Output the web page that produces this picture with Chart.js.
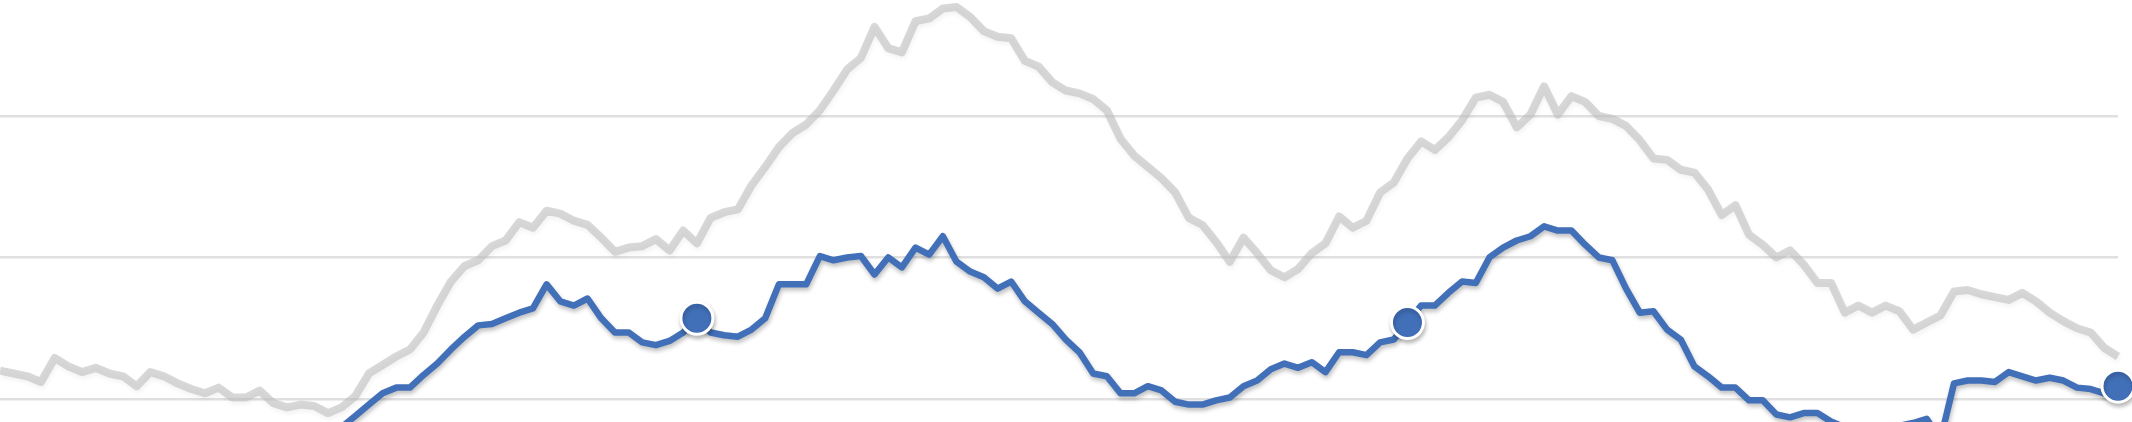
<!DOCTYPE html>
<html lang="en">
<head>
    <meta charset="UTF-8">
    <title>Two series</title>
    <script src="https://cdn.jsdelivr.net/npm/chart.js"></script>
    <style>
        html, body { margin: 0; padding: 0; background: #ffffff; }
        .chart-container { position: relative; width: 2132px; height: 422px; }
    </style>
</head>
<body>
    <div class="chart-container">
        <canvas id="lineChart"></canvas>
    </div>

    <script>
        // weekly points (gridlines sit at 10 / 20 / 30)
        const weeks = Array.from({ length: 156 }, (_, i) => 'W' + (i + 1));

        const greySeries = [
            12.0, 11.8, 11.6, 11.2, 12.9, 12.3, 11.9, 12.2, 11.8, 11.6,
            10.9, 11.9, 11.6, 11.1, 10.7, 10.4, 10.8, 10.1, 10.1, 10.6,
            9.7, 9.4, 9.6, 9.5, 9.0, 9.4, 10.2, 11.8, 12.4, 13.0,
            13.5, 14.7, 16.6, 18.3, 19.4, 19.8, 20.8, 21.2, 22.5, 22.1,
            23.3, 23.1, 22.6, 22.3, 21.4, 20.4, 20.7, 20.8, 21.3, 20.5,
            21.9, 21.0, 22.8, 23.2, 23.4, 25.1, 26.4, 27.8, 28.8, 29.4,
            30.4, 31.8, 33.3, 34.1, 36.3, 34.8, 34.5, 36.7, 36.9, 37.6,
            37.7, 37.0, 36.0, 35.6, 35.5, 33.9, 33.5, 32.4, 31.8, 31.6,
            31.2, 30.4, 28.4, 27.2, 26.4, 25.6, 24.6, 22.8, 22.3, 21.1,
            19.7, 21.4, 20.3, 19.1, 18.6, 19.2, 20.3, 21.0, 22.9, 22.1,
            22.6, 24.6, 25.3, 27.0, 28.2, 27.6, 28.5, 29.7, 31.3, 31.5,
            31.0, 29.2, 30.1, 32.1, 30.1, 31.4, 31.0, 30.0, 29.8, 29.3,
            28.3, 27.0, 26.9, 26.2, 26.0, 24.8, 23.0, 23.7, 21.6, 20.9,
            20.0, 20.5, 19.5, 18.2, 18.2, 16.1, 16.6, 16.1, 16.6, 16.2,
            14.9, 15.4, 15.9, 17.6, 17.7, 17.4, 17.2, 17.0, 17.5, 16.9,
            16.1, 15.5, 15.0, 14.7, 13.6, 13.0
        ];

        const blueSeries = [
            null, null, null, null, null, null, null, null, null, null,
            null, null, null, null, null, null, null, null, null, null,
            null, null, null, null, null, 8.0, 8.8, 9.6, 10.4, 10.8,
            10.8, 11.7, 12.5, 13.5, 14.4, 15.2, 15.3, 15.7, 16.1, 16.4,
            18.1, 16.9, 16.6, 17.1, 15.7, 14.7, 14.7, 14.0, 13.8, 14.1,
            14.7, 15.7, 14.7, 14.5, 14.4, 14.9, 15.7, 18.1, 18.1, 18.1,
            20.1, 19.8, 20.0, 20.1, 18.8, 20.0, 19.3, 20.7, 20.2, 21.5,
            19.7, 19.0, 18.6, 17.8, 18.3, 16.9, 16.1, 15.3, 14.2, 13.3,
            11.8, 11.6, 10.4, 10.4, 10.9, 10.6, 9.8, 9.6, 9.6, 9.9,
            10.1, 10.9, 11.3, 12.1, 12.5, 12.2, 12.6, 11.9, 13.3, 13.3,
            13.1, 14.0, 14.2, 15.4, 16.6, 16.6, 17.5, 18.3, 18.2, 20.0,
            20.7, 21.2, 21.5, 22.2, 21.9, 21.9, 20.9, 20.0, 19.8, 17.8,
            16.1, 16.2, 14.9, 14.2, 12.3, 11.6, 10.8, 10.8, 9.9, 9.9,
            8.9, 8.7, 9.0, 9.0, 8.4, 8.0, 7.7, 7.5, 7.8, 8.1,
            8.3, 8.6, 7.1, 11.1, 11.3, 11.3, 11.2, 11.9, 11.6, 11.3,
            11.5, 11.3, 10.8, 10.7, 10.4, 10.9
        ];

        // points that carry a round marker on the blue line
        const markerWeeks = [51, 103, 155];

        const gridValues = [10, 20, 30];

        // soft drop shadow under the lines, like the original
        const lineShadow = {
            id: 'lineShadow',
            beforeDatasetDraw(chart, args) {
                const ctx = chart.ctx;
                ctx.save();
                ctx.shadowColor = args.index === 1 ? 'rgba(0, 0, 0, 0.25)' : 'rgba(0, 0, 0, 0.08)';
                ctx.shadowBlur = 4;
                ctx.shadowOffsetX = 1;
                ctx.shadowOffsetY = 3;
            },
            afterDatasetDraw(chart) {
                chart.ctx.restore();
            }
        };

        const config = {
            type: 'line',
            data: {
                labels: weeks,
                datasets: [{
                    data: greySeries,
                    borderColor: 'rgba(190, 190, 190, 0.6)',
                    borderWidth: 8,
                    pointRadius: 0,
                    tension: 0,
                    borderJoinStyle: 'round',
                    clip: false
                }, {
                    data: blueSeries,
                    borderColor: '#4170b9',
                    borderWidth: 6.5,
                    tension: 0,
                    borderJoinStyle: 'round',
                    pointRadius: (c) => markerWeeks.includes(c.dataIndex) ? 16 : 0,
                    pointBackgroundColor: '#4170b9',
                    pointBorderColor: '#ffffff',
                    pointBorderWidth: 3,
                    clip: false
                }]
            },
            options: {
                responsive: true,
                maintainAspectRatio: false,
                animation: false,
                events: [],
                layout: {
                    autoPadding: false,
                    padding: { left: 0, right: 14, top: 0, bottom: 0 }
                },
                plugins: {
                    legend: { display: false },
                    tooltip: { enabled: false }
                },
                scales: {
                    x: {
                        display: false,
                        offset: false
                    },
                    y: {
                        min: 8.37,
                        max: 38.2,
                        afterBuildTicks: (scale) => {
                            scale.ticks = gridValues.map(v => ({ value: v }));
                        },
                        ticks: { display: false },
                        border: { display: false },
                        grid: {
                            color: '#e0e0e0',
                            lineWidth: 2.5,
                            drawTicks: false
                        }
                    }
                }
            },
            plugins: [lineShadow]
        };

        new Chart(document.getElementById('lineChart'), config);
    </script>
</body>
</html>
